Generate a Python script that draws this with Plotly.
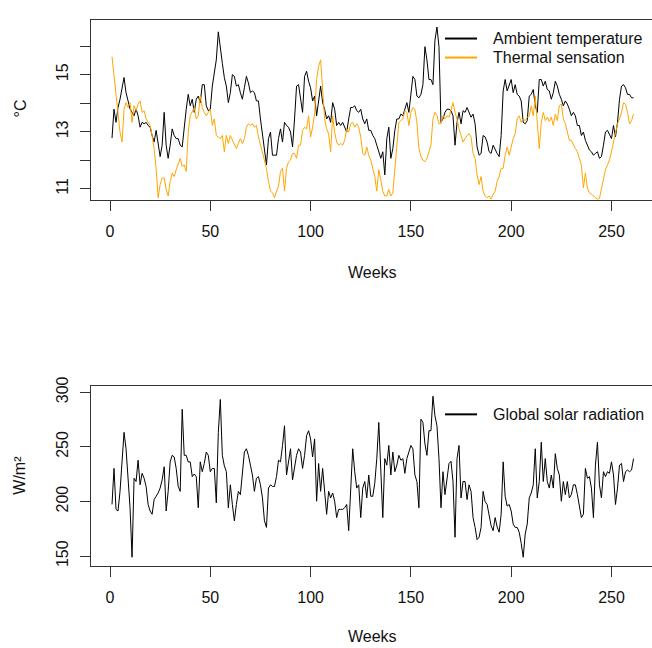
import plotly.graph_objects as go

W, H = 652, 648

weeks = list(range(1, 262))

ambient_temperature = [
    12.78, 13.79, 13.33, 13.85, 14.14, 14.48, 14.9, 14.37, 14.02, 13.8,
    13.68, 13.56, 13.8, 13.56, 13.16, 13.33, 13.28, 13.33, 13.22, 13.16,
    12.87, 12.64, 13.05, 12.64, 12.13, 12.53, 13.68, 12.53, 12.07, 12.53,
    13.1, 12.87, 12.76, 12.76, 12.53, 12.47, 13.22, 13.79, 14.31, 13.91,
    14.14, 13.68, 14.14, 14.25, 14.02, 14.65, 14.65, 13.91, 13.74, 13.79,
    14.6, 15.06, 15.52, 16.5, 15.87, 15.4, 14.9, 14.6, 14.02, 14.37,
    15.0, 14.94, 14.6, 14.65, 14.37, 14.14, 14.54, 14.94, 14.71, 14.37,
    14.43, 14.37, 14.08, 14.08, 13.45, 12.87, 12.3, 11.84, 12.76, 12.99,
    12.18, 12.18, 12.18, 12.76, 13.1, 12.64, 13.33, 13.22, 13.16, 12.99,
    12.47, 13.45, 14.6, 14.65, 14.14, 13.68, 14.94, 15.12, 14.77, 14.54,
    14.08, 14.25, 13.56, 14.08, 14.6, 14.02, 13.79, 13.45, 13.56, 13.33,
    14.02, 13.79, 13.22, 13.33, 13.22, 13.33, 13.16, 12.99, 13.45, 13.85,
    13.85, 13.91, 13.74, 13.68, 13.79, 13.45, 13.28, 13.45, 13.05, 13.05,
    12.87, 12.76, 12.53, 12.3, 12.07, 12.3, 11.49, 12.76, 13.16, 12.07,
    12.41, 13.05, 13.45, 13.45, 13.62, 13.56, 13.79, 14.02, 13.68, 14.25,
    14.94, 14.83, 14.25, 14.19, 14.31, 14.65, 15.98, 15.52, 14.83, 14.83,
    14.65, 16.21, 16.67, 15.98, 13.33, 13.45, 13.68, 13.79, 13.79, 13.74,
    13.56, 12.53, 13.33, 13.68, 13.28, 13.74, 13.68, 13.85, 13.68, 13.51,
    13.62, 13.28, 12.47, 12.18, 12.24, 12.87, 12.82, 12.64, 12.3, 12.24,
    12.53, 12.36, 12.24, 12.13, 12.87, 14.43, 14.83, 14.43, 14.65, 14.83,
    14.37, 14.65, 14.31, 14.25, 14.08, 13.33, 13.28, 13.39, 14.25, 14.31,
    14.48, 13.91, 13.68, 14.83, 14.83, 14.6, 14.77, 14.48, 14.43, 14.14,
    14.37, 14.77, 14.6, 14.31, 14.14, 13.91, 14.08, 13.97, 13.79, 13.56,
    13.68, 13.56, 13.22, 13.22, 12.87, 12.99, 12.7, 12.53, 12.36, 12.3,
    12.18, 12.24, 12.3, 12.07, 12.13, 12.53, 12.99, 13.05, 12.87, 12.76,
    13.22, 12.82, 13.33, 14.14, 14.6, 14.65, 14.54, 14.31, 14.31, 14.19,
    14.19,
]

thermal_sensation = [
    15.63, 14.94, 14.37, 13.79, 12.99, 12.64, 13.79, 14.02, 13.85, 14.02,
    13.33, 13.91, 13.74, 13.97, 14.08, 13.68, 13.74, 13.45, 13.33, 13.22,
    12.87, 12.41, 11.72, 10.69, 11.15, 11.38, 11.38, 10.98, 10.75, 11.26,
    11.55, 11.43, 11.67, 11.84, 12.07, 11.78, 11.84, 11.61, 12.99, 13.56,
    13.68, 13.85, 13.45, 13.56, 14.25, 13.85, 13.68, 13.56, 13.68, 13.79,
    13.22, 13.45, 12.87, 12.82, 12.76, 12.87, 12.3, 12.87, 12.59, 12.87,
    12.7, 12.59, 12.41, 12.59, 12.76, 12.59, 12.76, 13.16, 13.28, 13.22,
    13.28, 13.16, 13.22, 12.82, 12.53, 12.24, 12.01, 11.72, 11.26, 10.92,
    10.86, 10.69, 10.92, 11.09, 11.61, 11.72, 10.92, 11.72, 11.95, 12.01,
    12.24, 12.24, 12.07, 12.53, 12.53, 13.05, 13.16, 13.1, 13.56, 12.82,
    13.16, 13.62, 14.83, 15.29, 15.52, 14.6, 13.45, 13.1, 12.93, 12.3,
    13.56, 12.99, 12.64, 12.53, 12.59, 12.53, 12.7, 13.1, 12.99, 13.28,
    13.33, 13.16, 13.28, 13.16, 12.82, 12.24, 12.18, 12.47, 12.18, 12.01,
    11.72, 11.43, 10.92, 11.67, 11.32, 10.92, 10.75, 10.75, 10.98, 10.75,
    10.86, 11.61, 12.3, 13.33, 13.39, 13.45, 13.74, 13.68, 13.22, 13.68,
    13.85, 13.79, 13.33, 12.41, 12.13, 12.01, 11.95, 12.07, 12.3, 12.53,
    13.45, 13.68, 13.56, 13.28, 13.28, 13.56, 13.45, 13.56, 13.51, 13.79,
    14.02, 13.68, 13.45, 13.1, 12.82, 12.64, 12.76, 12.87, 12.93, 12.82,
    12.24, 12.07, 11.49, 11.15, 11.43, 10.92, 10.75, 10.69, 10.75, 10.64,
    10.81, 10.92, 11.26, 11.43, 11.72, 11.72, 12.18, 12.47, 12.18, 12.47,
    12.76, 12.93, 13.45, 13.56, 13.33, 13.45, 13.39, 13.51, 13.54, 13.91,
    13.56, 14.25, 13.16, 12.41, 13.33, 13.68, 13.39, 13.51, 13.36, 13.51,
    13.22, 13.62, 13.39, 13.91, 13.97, 13.45, 13.28, 12.93, 12.7, 12.7,
    12.53, 12.41, 12.3, 12.07, 11.84, 11.03, 11.55, 11.03, 10.86, 10.81,
    10.75, 10.69, 10.64, 10.67, 10.98, 11.38, 11.67, 11.84, 12.01, 12.3,
    12.64, 12.93, 13.28, 13.45, 13.68, 14.02, 13.97, 13.68, 13.28, 13.39,
    13.62,
]

global_solar_radiation = [
    197.3, 230.3, 192.8, 191.3, 209.3, 233.3, 263.3, 248.3, 218.3, 194.3,
    149.0, 221.3, 218.3, 237.8, 215.3, 225.8, 221.3, 213.8, 197.3, 191.3,
    188.3, 201.8, 204.8, 207.8, 212.3, 219.8, 231.8, 191.3, 209.3, 236.3,
    242.3, 240.8, 230.3, 213.8, 209.3, 284.4, 242.3, 242.3, 236.3, 236.3,
    222.8, 225.2, 222.8, 194.3, 236.3, 227.3, 234.8, 245.3, 242.3, 227.3,
    230.3, 230.3, 198.8, 263.3, 293.4, 242.3, 232.7, 227.3, 194.3, 215.3,
    197.3, 182.3, 197.3, 209.3, 206.3, 224.3, 245.3, 248.3, 242.3, 233.3,
    224.3, 209.3, 221.3, 222.8, 215.3, 203.3, 182.3, 176.3, 212.3, 215.3,
    213.8, 213.8, 222.8, 237.8, 236.3, 251.3, 269.3, 224.3, 236.3, 248.3,
    219.8, 230.3, 242.3, 248.3, 245.3, 230.3, 242.3, 260.3, 264.8, 257.3,
    240.8, 257.3, 200.3, 234.8, 209.3, 230.3, 212.3, 188.3, 209.3, 203.3,
    207.8, 200.3, 185.3, 192.8, 192.8, 192.8, 194.3, 197.3, 173.3, 209.3,
    248.3, 227.3, 212.3, 215.3, 185.3, 212.3, 218.3, 203.3, 224.3, 204.8,
    204.8, 216.8, 239.3, 272.4, 233.3, 185.3, 239.3, 233.3, 251.3, 224.3,
    245.3, 227.3, 233.3, 242.3, 237.8, 239.3, 225.8, 239.3, 245.3, 251.3,
    248.3, 224.3, 218.3, 194.3, 275.4, 272.4, 252.8, 242.3, 264.8, 264.8,
    296.4, 278.4, 269.3, 239.3, 194.3, 227.3, 206.3, 218.3, 234.8, 236.9,
    218.3, 167.3, 239.3, 251.3, 203.3, 218.3, 218.3, 201.8, 215.3, 209.3,
    185.3, 176.3, 165.1, 167.3, 176.3, 209.3, 199.8, 197.3, 188.3, 177.8,
    173.3, 185.3, 176.8, 171.9, 188.3, 236.3, 204.8, 195.8, 197.3, 191.3,
    179.3, 176.3, 176.3, 171.9, 161.7, 149.0, 170.3, 179.3, 203.3, 207.8,
    215.3, 248.3, 203.3, 218.3, 254.3, 218.3, 239.3, 218.3, 212.3, 224.3,
    212.3, 243.8, 230.3, 224.3, 200.3, 218.3, 206.3, 218.3, 203.3, 206.3,
    215.3, 215.3, 206.3, 197.3, 185.3, 188.3, 230.3, 221.3, 222.8, 212.3,
    185.3, 233.3, 254.3, 215.3, 203.3, 227.3, 222.8, 227.3, 225.8, 236.3,
    224.3, 197.3, 212.3, 233.3, 234.8, 218.3, 227.3, 228.8, 227.3, 228.8,
    239.3,
]

x_ticks = [0, 50, 100, 150, 200, 250]
temp_ticks = [11, 12, 13, 14, 15, 16]
temp_tick_labels = ["11", "", "13", "", "15", ""]
rad_ticks = [150, 200, 250, 300]
rad_tick_labels = ["150", "200", "250", "300"]

FONT = "Liberation Sans, Arial, sans-serif"
AX = "#333333"


def px(x):
    return x / W


def py(y):
    return 1 - y / H


fig = go.Figure()
fig.add_trace(go.Scatter(x=weeks, y=ambient_temperature, mode="lines",
                         line=dict(color="black", width=1),
                         name="Ambient temperature", xaxis="x", yaxis="y"))
fig.add_trace(go.Scatter(x=weeks, y=thermal_sensation, mode="lines",
                         line=dict(color="#FFA500", width=1),
                         name="Thermal sensation", xaxis="x", yaxis="y"))
fig.add_trace(go.Scatter(x=weeks, y=global_solar_radiation, mode="lines",
                         line=dict(color="black", width=1),
                         name="Global solar radiation", xaxis="x2", yaxis="y2"))

xcommon = dict(range=[-9.47, 270.2], domain=[px(91), 1.0], tickvals=x_ticks,
               ticks="outside", ticklen=10, tickcolor=AX, showline=True,
               linecolor=AX, linewidth=1, mirror=True, showgrid=False,
               zeroline=False, ticklabelstandoff=7,
               tickfont=dict(family=FONT, size=16, color="#111"))
ycommon = dict(ticks="outside", ticklen=10, tickcolor=AX, showline=True,
               linecolor=AX, linewidth=1, mirror=False, showgrid=False,
               zeroline=False, tickangle=-90, ticklabelstandoff=6,
               tickfont=dict(family=FONT, size=16, color="#111"))

fig.update_layout(
    width=W, height=H, margin=dict(l=0, r=0, t=0, b=0),
    paper_bgcolor="white", plot_bgcolor="white", showlegend=False,
    font=dict(family=FONT, size=16, color="#111"),
    xaxis=dict(anchor="y", **xcommon),
    yaxis=dict(anchor="x", domain=[py(194), py(11)], range=[10.61, 16.921],
               tickvals=temp_ticks, ticktext=temp_tick_labels, **ycommon),
    xaxis2=dict(anchor="y2", **xcommon),
    yaxis2=dict(anchor="x2", domain=[py(565.3), py(382.7)], range=[141.35, 305.95],
                tickvals=rad_ticks, ticktext=rad_tick_labels, **ycommon),
)

# axis titles
for text, x, y, ang in [("Weeks", 372.5, 268, 0), ("Weeks", 372.5, 637, 0),
                        ("°C", 20, 101, -90), ("W/m²", 20, 474, -90)]:
    fig.add_annotation(text=text, x=px(x), y=py(y), xref="paper", yref="paper",
                       showarrow=False, textangle=ang, xanchor="center", yanchor="middle",
                       font=dict(family=FONT, size=16, color="#111"))

# legends
legend_items = [("Ambient temperature", "black", 30),
                ("Thermal sensation", "#FFA500", 49.3),
                ("Global solar radiation", "black", 411.7)]
for text, color, y in legend_items:
    fig.add_shape(type="line", xref="paper", yref="paper", x0=px(445), x1=px(477),
                  y0=py(y), y1=py(y), line=dict(color=color, width=2))
    fig.add_annotation(text=text, x=px(491), y=py(y), xref="paper", yref="paper",
                       showarrow=False, xanchor="left", yanchor="middle",
                       font=dict(family=FONT, size=16, color="#111"))

fig.write_html("out.html")
